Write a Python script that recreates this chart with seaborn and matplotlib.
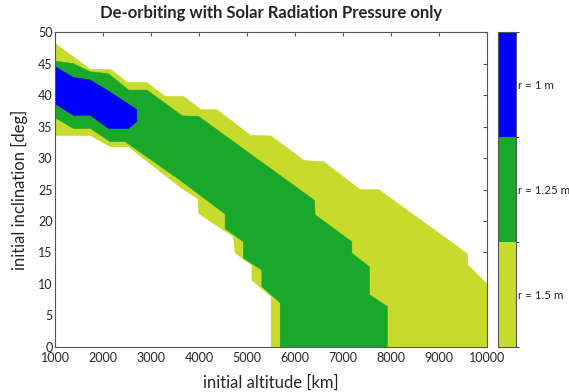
import numpy as np
import matplotlib
matplotlib.use("Agg")
import matplotlib.pyplot as plt
import seaborn as sns
from matplotlib.colors import ListedColormap, BoundaryNorm
from matplotlib.cm import ScalarMappable

# -----------------------------
# Region boundaries (altitude [km], inclination [deg])
# -----------------------------
# r = 1.5 m
yellow_top_alt = [1000, 1730, 2150, 2510, 2910, 3290, 3670, 4040, 4370, 5070, 5500, 6190, 6600, 7350, 7740, 9590, 9600, 10000, 10000]
yellow_top_inc = [48.2, 44.1, 44.1, 42.0, 42.0, 39.8, 39.8, 37.7, 37.7, 33.6, 33.5, 29.6, 29.4, 25.0, 25.0, 14.8, 13.0, 10.0, 0]
yellow_low_alt = [1000, 1730, 2150, 2530, 3600, 3980, 3990, 4715, 4750, 5100, 5100, 5500, 5500]
yellow_low_inc = [33.6, 33.6, 31.8, 31.8, 25.4, 23.5, 21.2, 17.5, 14.9, 13.0, 10.6, 8.0, 0]

# r = 1.25 m
green_top_alt = [1000, 1380, 1730, 2110, 2530, 2910, 3290, 3650, 3990, 6400, 6417, 7181, 7181, 7548, 7548, 7923, 7923]
green_top_inc = [45.4, 45.0, 43.7, 43.4, 40.8, 40.8, 38.7, 36.7, 36.6, 23.3, 21.0, 16.7, 14.9, 12.7, 8.3, 6.4, 0]
green_low_alt = [1000, 1380, 1730, 2150, 2460, 3600, 4542, 4542, 4923, 4923, 5306, 5306, 5690, 5690]
green_low_inc = [36.4, 34.7, 34.7, 32.6, 32.6, 26.5, 21.1, 18.8, 16.7, 14.1, 12.2, 9.6, 7.0, 0]

# r = 1 m
blue_top_alt = [1000, 1381, 1729, 2077, 2702, 2702]
blue_top_inc = [44.5, 42.8, 42.4, 40.8, 37.7, 35.8]
blue_low_alt = [1000, 1381, 1729, 2111, 2527]
blue_low_inc = [38.6, 36.8, 36.8, 34.7, 34.7]

radius_labels = ["r = 1.5 m", "r = 1.25 m", "r = 1 m"]
colors = ["#C8DA2C", "#1AA82A", "#0000FF"]

# -----------------------------
# Plot
# -----------------------------
sns.set_style("white")
plt.rcParams["font.family"] = ["Lato", "DejaVu Sans"]

fig = plt.figure(figsize=(5.69, 3.92), dpi=100)
ax = fig.add_axes([0.097, 0.115, 0.759, 0.803])
cax = fig.add_axes([0.876, 0.115, 0.031, 0.803])

regions = [
    (yellow_top_alt, yellow_top_inc, yellow_low_alt, yellow_low_inc),
    (green_top_alt, green_top_inc, green_low_alt, green_low_inc),
    (blue_top_alt, blue_top_inc, blue_low_alt, blue_low_inc),
]
for (ta, ti, la, li), c in zip(regions, colors):
    xs = np.r_[ta, la[::-1]]
    ys = np.r_[ti, li[::-1]]
    ax.fill(xs, ys, color=c, lw=0.4, ec=c)

ax.set_xlim(1000, 10000)
ax.set_ylim(0, 50)
ax.set_xticks(range(1000, 10001, 1000))
ax.set_yticks(range(0, 51, 5))
ax.tick_params(direction="in", length=3, top=True, right=True, labelsize=9, color="#555555")
ax.tick_params(axis="x", pad=4)
ax.tick_params(axis="y", pad=2)
for s in ax.spines.values():
    s.set_color("#555555")
    s.set_linewidth(0.8)

ax.set_xlabel("initial altitude [km]", fontsize=12, labelpad=7)
ax.set_ylabel("initial inclination [deg]", fontsize=12, labelpad=7)
ax.set_title("De-orbiting with Solar Radiation Pressure only", fontsize=12, fontweight="bold", pad=10)

cmap = ListedColormap(colors)
norm = BoundaryNorm([0, 1, 2, 3], cmap.N)
cb = fig.colorbar(ScalarMappable(norm=norm, cmap=cmap), cax=cax, ticks=[0.5, 1.5, 2.5])
cb.set_ticklabels(radius_labels)
cb.ax.tick_params(direction="in", length=3, left=True, right=True, labelsize=8.3, pad=1.5, color="#555555")
cb.outline.set_edgecolor("#555555")
cb.outline.set_linewidth(0.8)

fig.savefig("out.png", dpi=100)
